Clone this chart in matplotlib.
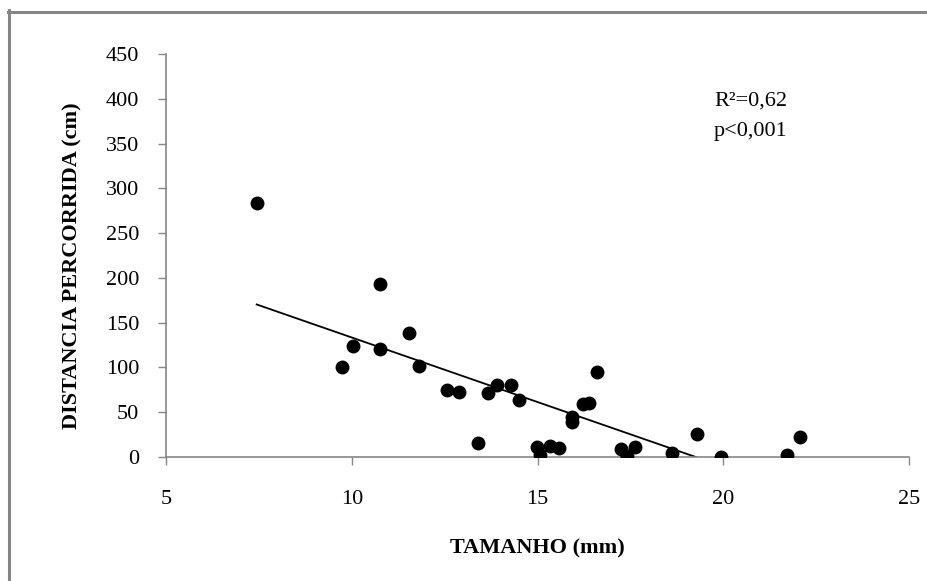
import numpy as np
import matplotlib
matplotlib.use("Agg")
import matplotlib.pyplot as plt
from matplotlib.lines import Line2D

# data
tamanho = [7.43, 9.73, 10.02, 10.75, 10.75, 11.52, 11.79, 12.55, 12.89, 13.38,
           13.67, 13.89, 14.29, 14.50, 14.97, 15.06, 15.33, 15.58, 15.93, 15.93,
           16.21, 16.37, 16.59, 17.23, 17.40, 17.62, 18.61, 19.30, 19.95, 21.72, 22.06]
distancia = [284, 100, 124, 193, 121, 138, 102, 75, 73, 16,
             71, 80, 80, 64, 11, 2, 12, 10, 45, 39,
             59, 60, 95, 9, 1, 11, 4, 26, 0, 2, 22]
x_ticks = [5, 10, 15, 20, 25]
y_ticks = [0, 50, 100, 150, 200, 250, 300, 350, 400, 450]
stats_text = ["R\u00b2=0,62", "p<0,001"]

plt.rcParams['font.family'] = ['Liberation Serif', 'DejaVu Serif']
gray = '#868686'

fig = plt.figure(figsize=(9.28, 5.81), dpi=100)
ax = fig.add_axes([0.1794, 0.2134, 0.8001, 0.6937])

x = np.array(tamanho)
y = np.array(distancia)
ax.scatter(x, y, s=100, color='black', zorder=3, linewidths=0)

# linear trendline over the data range
slope, intercept = np.polyfit(x, y, 1)
xl = np.linspace(x.min(), x.max(), 200)
ax.plot(xl, slope * xl + intercept, color='black', linewidth=1.3, zorder=2)

ax.set_xlim(5, 25)
ax.set_ylim(0, 450)
ax.set_xticks(x_ticks)
ax.set_yticks(y_ticks)
ax.tick_params(axis='both', direction='out', length=6, width=1, color=gray,
               labelsize=16)
ax.tick_params(axis='x', pad=18)
ax.tick_params(axis='y', pad=13.5)
for side in ['top', 'right']:
    ax.spines[side].set_visible(False)
for side in ['left', 'bottom']:
    ax.spines[side].set_color(gray)
    ax.spines[side].set_linewidth(1.2)

ax.set_xlabel("TAMANHO (mm)", fontsize=16, fontweight='bold')
ax.set_ylabel("DISTANCIA PERCORRIDA (cm)", fontsize=16, fontweight='bold')
ax.xaxis.set_label_coords(0.5, -0.226)
ax.yaxis.set_label_coords(-0.126, 0.474)
ax.xaxis.label.set_va('center')
ax.yaxis.label.set_va('center')

ax.text(19.75, 397, stats_text[0], fontsize=16, va='center', ha='left')
ax.text(19.75, 363, stats_text[1], fontsize=16, va='center', ha='left')

# outer frame (top and left visible)
fig.add_artist(Line2D([9.5 / 928, 9.5 / 928], [0, 1 - 10 / 581], transform=fig.transFigure,
                      color=gray, linewidth=2.2))
fig.add_artist(Line2D([8 / 928, 1], [1 - 11.5 / 581, 1 - 11.5 / 581], transform=fig.transFigure,
                      color=gray, linewidth=2.2))

fig.savefig("out.png", dpi=100)
